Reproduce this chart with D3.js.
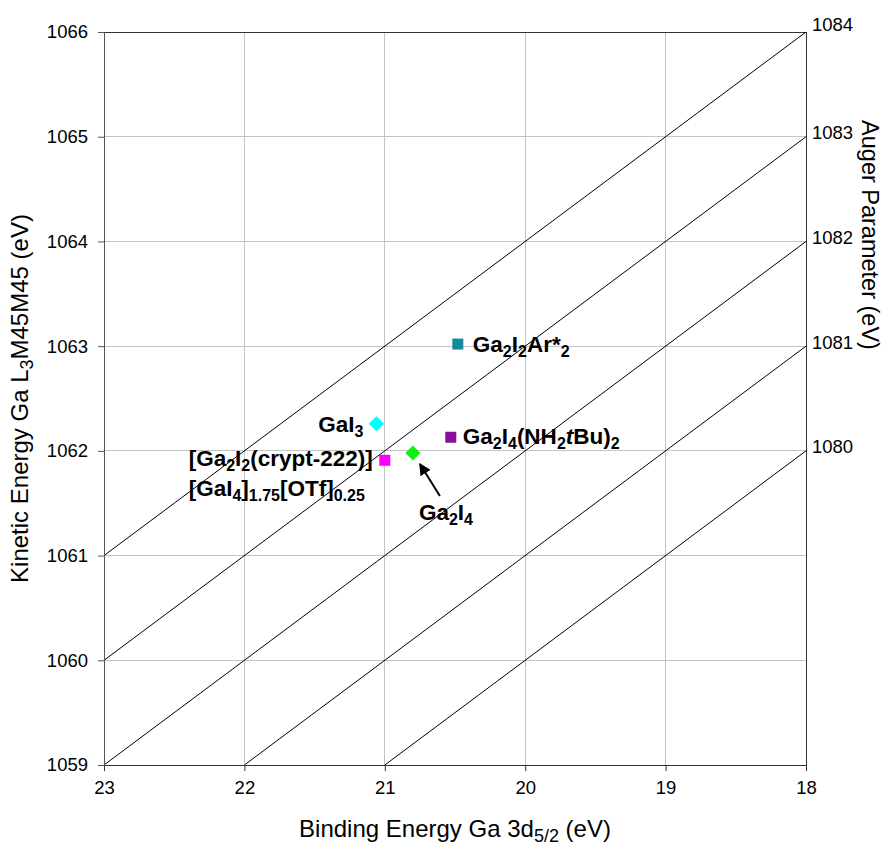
<!DOCTYPE html>
<html>
<head>
<meta charset="utf-8">
<script src="https://cdn.jsdelivr.net/npm/d3@7"></script>
<style>
  html, body { margin: 0; padding: 0; background: #fff; }
  svg { display: block; font-family: "Liberation Sans", Arial, Helvetica, sans-serif; }
</style>
</head>
<body>
<svg id="chart" width="887" height="848"></svg>
<script>
// ---------- data ----------
const compounds = ["Ga2I2Ar*2", "GaI3", "Ga2I4(NH2tBu)2", "[Ga2I2(crypt-222)][GaI4]1.75[OTf]0.25", "Ga2I4"];
const bindingEnergy = [20.48, 21.06, 20.53, 21.00, 20.80];
const kineticEnergy = [1063.02, 1062.26, 1062.13, 1061.91, 1061.98];
const markerShapes = ["square", "diamond", "square", "square", "diamond"];
const markerColors = ["#15899b", "#00ffff", "#8a0f9c", "#ff00ff", "#11ee11"];
// label text as [text, isSubscript, isItalic] segments; one inner array per line
const labelLines = [
  [[["Ga"], ["2", 1], ["I"], ["2", 1], ["Ar*"], ["2", 1]]],
  [[["GaI"], ["3", 1]]],
  [[["Ga"], ["2", 1], ["I"], ["4", 1], ["(NH"], ["2", 1], ["t", 0, 1], ["Bu)"], ["2", 1]]],
  [[["[Ga"], ["2", 1], ["I"], ["2", 1], ["(crypt-222)]"]],
   [["[GaI"], ["4", 1], ["]"], ["1.75", 1], ["[OTf]"], ["0.25", 1]]],
  [[["Ga"], ["2", 1], ["I"], ["4", 1]]]
];
const augerParameters = [1080, 1081, 1082, 1083, 1084];
const xTicks = [23, 22, 21, 20, 19, 18];
const yTicks = [1059, 1060, 1061, 1062, 1063, 1064, 1065, 1066];
const xDomain = [23, 18];
const yDomain = [1059, 1066];

// ---------- layout ----------
const W = 887, H = 848;
const margin = { left: 104, right: 81, top: 32, bottom: 83 };
const x0 = margin.left, x1 = W - margin.right, y0 = margin.top, y1 = H - margin.bottom;

const svg = d3.select("#chart");
const x = d3.scaleLinear().domain(xDomain).range([x0, x1]);
const y = d3.scaleLinear().domain(yDomain).range([y1, y0]);

// gridlines
svg.append("g").selectAll("line.vg").data(xTicks).join("line")
  .attr("x1", d => x(d)).attr("x2", d => x(d)).attr("y1", y0).attr("y2", y1)
  .attr("stroke", "#c4c4c4").attr("stroke-width", 1).attr("shape-rendering", "crispEdges");
svg.append("g").selectAll("line.hg").data(yTicks).join("line")
  .attr("x1", x0).attr("x2", x1).attr("y1", d => y(d)).attr("y2", d => y(d))
  .attr("stroke", "#c4c4c4").attr("stroke-width", 1).attr("shape-rendering", "crispEdges");

// plot border (top & right)
svg.append("line").attr("x1", x0).attr("x2", x1).attr("y1", y0).attr("y2", y0)
  .attr("stroke", "#333").attr("shape-rendering", "crispEdges");
svg.append("line").attr("x1", x1).attr("x2", x1).attr("y1", y0).attr("y2", y1)
  .attr("stroke", "#333").attr("shape-rendering", "crispEdges");

// Auger parameter diagonal lines: KE = A - BE
const diag = svg.append("g");
augerParameters.forEach(A => {
  const beLo = Math.max(18, A - yDomain[1]);
  const beHi = Math.min(23, A - yDomain[0]);
  diag.append("line")
    .attr("x1", x(beLo)).attr("y1", y(A - beLo))
    .attr("x2", x(beHi)).attr("y2", y(A - beHi))
    .attr("stroke", "#000").attr("stroke-width", 1);
  const ly = y(A - 18);
  diag.append("text")
    .attr("x", x1 + 6).attr("y", ly <= y0 + 0.5 ? ly - 7 : ly - 4)
    .attr("dy", "0.35em")
    .attr("font-size", 18.5).attr("fill", "#000")
    .text(A);
});

// axes
const xAxis = d3.axisBottom(x).tickValues(xTicks).tickFormat(d3.format("d")).tickSize(6).tickPadding(10);
const gx = svg.append("g").attr("transform", `translate(0,${y1})`).call(xAxis);
gx.select(".domain").attr("stroke", "#333");
gx.selectAll(".tick line").attr("stroke", "#333");
gx.selectAll(".tick text").attr("font-size", 18.5).attr("fill", "#000");

const yAxis = d3.axisLeft(y).tickValues(yTicks).tickFormat(d3.format("d")).tickSize(6).tickPadding(10);
const gy = svg.append("g").attr("transform", `translate(${x0},0)`).call(yAxis);
gy.select(".domain").attr("stroke", "#555");
gy.selectAll(".tick line").attr("stroke", "#555");
gy.selectAll(".tick text").attr("font-size", 18.5).attr("fill", "#000");
svg.selectAll(".tick text").attr("font-family", "'Liberation Sans', Arial, sans-serif");

// axis titles
const xt = svg.append("text").attr("x", (x0 + x1) / 2).attr("y", 837)
  .attr("text-anchor", "middle").attr("font-size", 24);
xt.append("tspan").text("Binding Energy Ga 3d");
xt.append("tspan").attr("dy", 5).attr("font-size", 18).text("5/2");
xt.append("tspan").attr("dy", -5).text(" (eV)");

const yt = svg.append("text").attr("transform", `translate(28,${(y0 + y1) / 2}) rotate(-90)`)
  .attr("text-anchor", "middle").attr("font-size", 24);
yt.append("tspan").text("Kinetic Energy Ga L");
yt.append("tspan").attr("dy", 5).attr("font-size", 18).text("3");
yt.append("tspan").attr("dy", -5).text("M45M45 (eV)");

svg.append("text").attr("transform", `translate(862,235) rotate(90)`)
  .attr("text-anchor", "middle").attr("font-size", 23.5).text("Auger Parameter (eV)");

// markers
const pts = compounds.map((c, i) => ({ c, be: bindingEnergy[i], ke: kineticEnergy[i], shape: markerShapes[i], color: markerColors[i], lines: labelLines[i] }));
const mk = svg.append("g");
pts.forEach(p => {
  const px = x(p.be), py = y(p.ke);
  if (p.shape === "square") {
    mk.append("rect").attr("x", px - 5.5).attr("y", py - 5.5).attr("width", 11).attr("height", 11)
      .attr("fill", p.color);
  } else {
    const r = 7.5;
    mk.append("path").attr("d", `M${px},${py - r}L${px + r},${py}L${px},${py + r}L${px - r},${py}Z`)
      .attr("fill", p.color);
  }
});

// labels
function addLabel(lineSegs, lx, ly, anchor) {
  const t = svg.append("text").attr("x", lx).attr("y", ly).attr("text-anchor", anchor)
    .attr("font-size", 22.5).attr("font-weight", "bold").attr("fill", "#000");
  let shifted = false;
  lineSegs.forEach(seg => {
    const ts = t.append("tspan").text(seg[0]);
    if (seg[1]) {
      ts.attr("font-size", 16);
      if (!shifted) { ts.attr("dy", 5); shifted = true; }
    } else if (shifted) { ts.attr("dy", -5); shifted = false; }
    if (seg[2]) ts.attr("font-style", "italic");
  });
  return t;
}
const offsets = [
  { dx: 15, dy: 8, anchor: "start" },
  { dx: -13, dy: 8, anchor: "end" },
  { dx: 12, dy: 7, anchor: "start" },
  { dx: -12, dy: 6, anchor: "end" },
  { dx: 6, dy: 67, anchor: "start" }
];
pts.forEach((p, i) => {
  const px = x(p.be), py = y(p.ke), o = offsets[i];
  const first = addLabel(p.lines[0], px + o.dx, py + o.dy, o.anchor);
  if (p.lines.length > 1) {
    const bx = first.node().getBBox().x;
    addLabel(p.lines[1], bx, py + o.dy + 30, "start");
  }
});

// arrow pointing at Ga2I4
const g4 = pts[4];
const gx4 = x(g4.be), gy4 = y(g4.ke);
svg.append("defs").append("marker").attr("id", "ah").attr("viewBox", "0 0 10 10")
  .attr("refX", 9).attr("refY", 5).attr("markerWidth", 6).attr("markerHeight", 6)
  .attr("markerUnits", "strokeWidth")
  .attr("orient", "auto").append("path").attr("d", "M0,0L10,5L0,10Z").attr("fill", "#000");
svg.append("line").attr("x1", gx4 + 27).attr("y1", gy4 + 43).attr("x2", gx4 + 7).attr("y2", gy4 + 11)
  .attr("stroke", "#000").attr("stroke-width", 2).attr("marker-end", "url(#ah)");
</script>
</body>
</html>
